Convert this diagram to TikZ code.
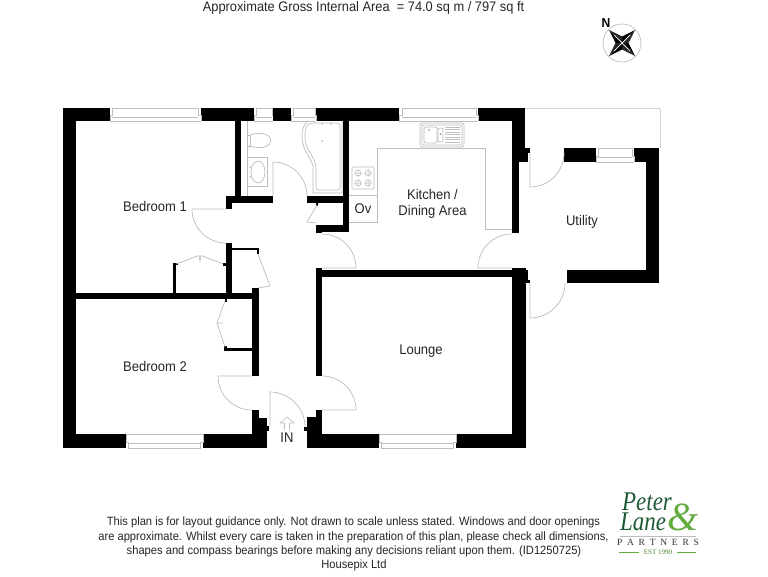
\documentclass[tikz,border=0pt]{standalone}
\usepackage{fontspec}
\setmainfont{Liberation Sans}[FakeStretch=0.93]
\newfontfamily\serifl{Liberation Serif}[FakeStretch=0.85]
\newfontfamily\serifp{Liberation Serif}
\usetikzlibrary{arrows.meta}
\definecolor{fix}{HTML}{BDBDBD}
\definecolor{darkg}{HTML}{1F5A35}
\definecolor{lightg}{HTML}{63AB3F}
\tikzset{
  x=1pt,y=-1pt,
  wallfill/.style={fill=black,draw=none},
  fixture/.style={draw=fix,line width=0.7pt,fill=none},
  doorleaf/.style={draw=fix,line width=0.7pt},
  room/.style={inner sep=0pt,font=\fontsize{14}{16.5}\selectfont,align=center,text=black!85},
  foot/.style={inner sep=0pt,font=\fontsize{12}{14}\selectfont,text=black!85},
}
\newcommand{\wl}[4]{\fill[wallfill] (#1,#2) rectangle (#3,#4);}
\newcommand{\win}[6]{% x1 x2 strip1 strip2 yinner youter
  \fill[white] (#1,#5) rectangle (#2,#6);
  \draw[fix,line width=0.6pt] (#1,#5) -- (#2,#5) (#1,#5) -- (#1,{(#5+#6)/2+1}) -- (#3,{(#5+#6)/2+1}) -- (#3,#6) -- (#4,#6) -- (#4,{(#5+#6)/2+1}) -- (#2,{(#5+#6)/2+1}) -- (#2,#5);
  \draw[fix,line width=0.4pt] (#3,{(#5+#6)/2+2.4}) -- (#4,{(#5+#6)/2+2.4});
}
\begin{document}
\begin{tikzpicture}
\useasboundingbox[fill=white] (0,0) rectangle (768,576);
% --- outer walls
\wl{63}{108}{525}{121}
\wl{63}{108}{76}{448}
\wl{63}{434}{267}{448}
\wl{76}{293}{259}{299}
\wl{512}{108}{525}{148}
\wl{512}{148}{528}{162}
\wl{528}{148}{530}{153}
\wl{512}{148}{519}{233}
\wl{512}{268}{526}{448}
\wl{512}{270}{528}{280}
\wl{526}{280}{530}{283}
\wl{316}{270}{526}{277}
\wl{309}{434}{526}{448}
\wl{316}{268}{322}{376}
\wl{316}{410}{322}{448}
\wl{307}{417}{322}{448}
\wl{304}{427}{309}{431}
\wl{252}{410}{259}{448}
\wl{252}{418}{267}{448}
\wl{267}{426}{269}{431}
% --- utility walls
\wl{564}{148}{659}{162}
\wl{646}{148}{659}{283}
\wl{567}{270}{659}{283}
\wl{564}{148}{567}{153}
% --- interior walls
\wl{235}{121}{241}{196}
\wl{226}{196}{273}{203}
\wl{226}{196}{232}{209}
\wl{307}{196}{349}{203}
\wl{343}{121}{349}{232}
\wl{316}{225}{349}{232}
\wl{316}{225}{322}{233}
\wl{226}{243}{232}{299}
\wl{226}{248}{259}{250}
\wl{257}{248}{259}{254}
\wl{252}{288}{259}{376}
\wl{173}{263}{176}{293}
\wl{173}{263}{178}{265}
\wl{223}{263}{226}{266}
\wl{225}{348}{252}{351}
\wl{224}{346}{227}{351}
\wl{225}{299}{227}{302}
\wl{316}{203}{318}{206}
% --- windows
\win{110}{201}{112}{198}{121}{108}
\win{254}{273}{256}{272}{121}{108}
\win{291}{316}{293}{315}{121}{108}
\win{399}{478}{402}{476}{121}{108}
\win{596}{634}{598}{632}{162}{148}
\win{126}{203}{128}{200}{434}{448}
\win{379}{456}{381}{453}{434}{448}
\fill[black] (273,108) rectangle (291,121);
% --- utility outline
\draw[fix,line width=0.6pt,densely dotted] (525,108) -- (660,108) -- (660,148);
% --- doors
\draw[doorleaf] (273,196) -- (273,162) arc[start angle=-90,end angle=0,radius=34];
\draw[doorleaf] (226,209) -- (192,209) arc[start angle=180,end angle=90,radius=34];
\draw[doorleaf] (322,268) -- (356,268) arc[start angle=0,end angle=-90,radius=34];
\draw[doorleaf] (512,268) -- (478,268) arc[start angle=180,end angle=270,radius=34];
\draw[doorleaf] (530,153) -- (530,187) arc[start angle=90,end angle=0,radius=34];
\draw[doorleaf] (530,283) -- (530,318) arc[start angle=90,end angle=0,radius=35];
\draw[doorleaf] (322,410) -- (356,410) arc[start angle=0,end angle=-90,radius=34];
\draw[doorleaf] (252,376) -- (218,376) arc[start angle=180,end angle=90,radius=34];
\draw[doorleaf] (270,427) -- (270,392) arc[start angle=-90,end angle=0,radius=35];
% --- cupboard doors
\draw[doorleaf] (317,205) -- (307,222) -- (317,223);
\draw[doorleaf] (176,264) -- (199,255.5) (201,255.5) -- (223,264) (199,255.5) -- (200,261) -- (201,255.5);
\draw[doorleaf] (258,254) -- (270,286) -- (258,288);
\draw[doorleaf] (225,301) -- (217,323) -- (225,347) (217,323) -- (223,323);
% --- kitchen units
\draw[fixture] (349,222) -- (377,222) -- (377,148) -- (485,148) -- (485,229) -- (512,229);
\draw[fixture] (349,195) -- (377,195);
\draw[fixture,rounded corners=1pt] (352,167) rectangle (374,189);
\foreach \hx/\hy [count=\i] in {358/173,368/173,358/183,368/183}{
  \draw[fix,line width=0.5pt] (\hx,\hy) circle[radius=3] (\hx-4,\hy) -- (\hx+4,\hy) (\hx,\hy-4) -- (\hx,\hy+4);
}
% sink
\draw[fixture,rounded corners=2.5pt] (420,123) rectangle (464,147);
\draw[fixture,rounded corners=2pt] (422,125) rectangle (462,145);
\draw[fixture,rounded corners=2pt] (424,127) rectangle (437,143);
\draw[fixture,rounded corners=2pt] (438,128) rectangle (443,142);
\foreach \ly in {127,129.5,...,143}{\draw[fix,line width=0.4pt] (445,\ly) -- (460,\ly);}
\fill[fix!70!black] (429,130) circle[radius=.8] (440.5,134) circle[radius=.8];
% --- bathroom
\draw[fixture] (247,121) -- (247,196);
\draw[fixture] (247,157) -- (267,157) -- (267,186) -- (247,186);
\draw[fixture] (258,172) ellipse[x radius=7,y radius=11];
\draw[fixture] (247,135) rectangle (250,146);
\draw[fixture] (250,135) .. controls (262,131) and (271,135) .. (271,140.5) .. controls (271,146) and (262,150) .. (250,146);
\fill[fix] (250,167) circle[radius=.8] (250,177) circle[radius=.8];
% bath
\draw[fixture] (342,121) -- (342,193) -- (313,193) -- (313,166) .. controls (310,156) and (302,150) .. (302,136) .. controls (302,128) and (305,123) .. (308,121);
\draw[fixture,rounded corners=3pt] (340,123) -- (340,190) -- (316,190) -- (316,166) .. controls (313,155) and (305,148) .. (305,136) .. controls (305,129) and (307,125) .. (311,123) -- cycle;
\fill[fix] (322,141) circle[radius=1] (322,124) circle[radius=1] (331,124) circle[radius=1];
% --- entry arrow
\draw[fix,line width=0.6pt] (284.5,430) -- (284.5,423) -- (280,423) -- (287,417) -- (294,423) -- (289.5,423) -- (289.5,430);
% --- labels
\node[room] (tTitle) at (363.5,8) {\fontsize{13.8}{15}\selectfont Approximate Gross Internal Area\ \ = 74.0 sq m / 797 sq ft};
\node[room] (tBed1) at (155,206.5) {Bedroom 1};
\node[room] (tBed2) at (155,366) {Bedroom 2};
\node[room] (tKit) at (432.5,204) {Kitchen /\\Dining Area};
\node[room] (tOv) at (363,208.5) {Ov};
\node[room] (tUtil) at (582,222) {Utility};
\node[room] (tLounge) at (421,351) {Lounge};
\node[room] (tIn) at (287,437.5) {IN};
% --- compass
\draw[fix,line width=0.7pt] (622,43) circle[radius=19];
\fill[black] (622,43) -- (635,30) -- (622,36.5) -- cycle;
\fill[black] (622,43) -- (635,56) -- (628.5,43) -- cycle;
\fill[black] (622,43) -- (609,56) -- (622,49.5) -- cycle;
\fill[black] (622,43) -- (609,30) -- (615.5,43) -- cycle;
\fill[black!85] (622,43) -- (635,30) -- (628.5,43) -- cycle;
\fill[black!85] (622,43) -- (635,56) -- (622,49.5) -- cycle;
\fill[black!85] (622,43) -- (609,56) -- (615.5,43) -- cycle;
\fill[black!85] (622,43) -- (609,30) -- (622,36.5) -- cycle;
\draw[white,line width=0.7pt] (622,43) -- (630,35) (622,43) -- (630,51) (622,43) -- (614,51) (622,43) -- (614,35);
\node[inner sep=0pt,font=\fontsize{13}{15}\selectfont\bfseries] (tN) at (606,23) {N};
% --- footer
\node[foot] (f1) at (353.5,522.5) {This plan is for layout guidance only. Not drawn to scale unless stated. Windows and door openings};
\node[foot] (f2) at (353.5,537) {are approximate. Whilst every care is taken in the preparation of this plan, please check all dimensions,};
\node[foot] (f3) at (354,551.5) {shapes and compass bearings before making any decisions reliant upon them. (ID1250725)};
\node[foot] (f4) at (354,565.5) {Housepix Ltd};
% --- logo
\node[inner sep=0pt,anchor=base west,text=darkg,font=\serifl\itshape\fontsize{27}{27}\selectfont] (lPeter) at (622,510.5) {Peter};
\node[inner sep=0pt,anchor=base west,text=darkg,font=\serifl\itshape\fontsize{27}{27}\selectfont] (lLane) at (620,530) {Lane};
\node[inner sep=0pt,anchor=base,text=lightg,font=\serifp\itshape\fontsize{40}{40}\selectfont] (lAmp) at (683,530) {\&};
\draw[fix,line width=0.8pt] (620,536) -- (696,536);
\node[inner sep=0pt,text=black!80,font=\serifp\fontsize{9.5}{11}\selectfont] (lPart) at (658,542.5) {P\,\,\,A\,\,\,R\,\,\,T\,\,\,N\,\,\,E\,\,\,R\,\,\,S};
\node[inner sep=0pt,text=lightg!80!black,font=\serifp\fontsize{7}{8}\selectfont] (lEst) at (658,552) {EST 1990};
\draw[lightg,line width=0.5pt] (619,552) -- (639,552) (677,552) -- (696,552);
\end{tikzpicture}
\end{document}
